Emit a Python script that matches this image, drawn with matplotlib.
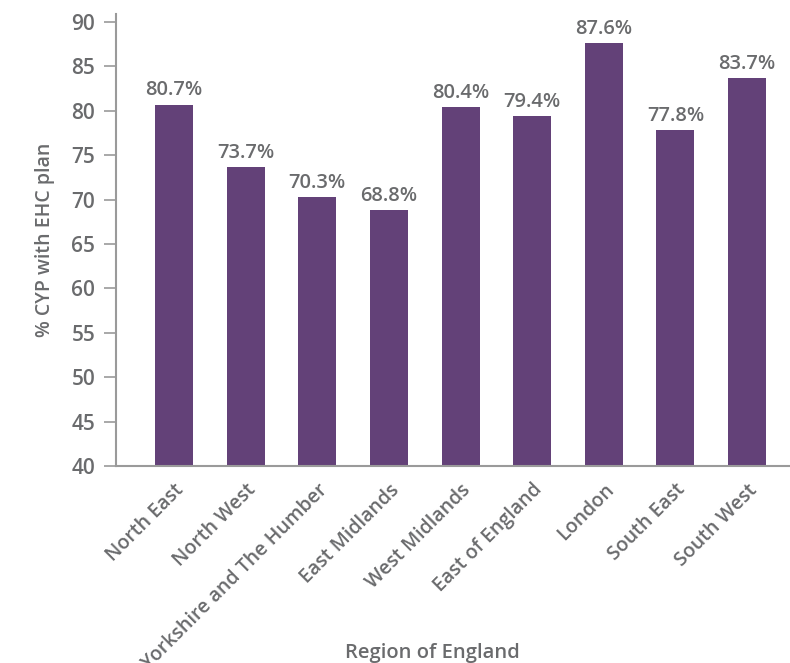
import matplotlib.pyplot as plt

plt.rcParams['font.family'] = ['Open Sans', 'DejaVu Sans']

regions = ['North East', 'North West', 'Yorkshire and The Humber', 'East Midlands',
           'West Midlands', 'East of England', 'London', 'South East', 'South West']
pct_ehc = [80.7, 73.7, 70.3, 68.8, 80.4, 79.4, 87.6, 77.8, 83.7]
y_ticks = [40, 45, 50, 55, 60, 65, 70, 75, 80, 85, 90]

bar_color = '#634178'
text_color = '#6a6b6d'
axis_color = '#9a9a9a'
weight = 'semibold'

fig = plt.figure(figsize=(7.9, 6.63), dpi=100)
ax = fig.add_axes([0.147, 0.297, 0.853, 0.682])

x = range(len(regions))
bars = ax.bar(x, pct_ehc, width=0.53, color=bar_color, zorder=2)
for b, v in zip(bars, pct_ehc):
    ax.annotate(f'{v}%', (b.get_x() + b.get_width() / 2, v), xytext=(0, 3),
                textcoords='offset points', ha='center', va='bottom',
                fontsize=14.5, fontweight=weight, color=text_color)

ax.set_ylim(40, 90.9)
ax.set_xlim(-0.81, 8.6)
ax.set_yticks(y_ticks)
ax.set_xticks(list(x))
ax.set_xticklabels(regions, rotation=45, ha='right', rotation_mode='anchor',
                   fontsize=14, fontweight=weight, color=text_color)
ax.tick_params(axis='x', length=0, pad=10)
ax.tick_params(axis='y', length=9, width=1.2, color=axis_color, pad=6,
               labelsize=15, labelcolor=text_color)
for lbl in ax.get_yticklabels():
    lbl.set_fontweight(weight)

for side in ('top', 'right'):
    ax.spines[side].set_visible(False)
for side in ('left', 'bottom'):
    ax.spines[side].set_color(axis_color)
    ax.spines[side].set_linewidth(1.5)

ax.set_ylabel('% CYP with EHC plan', fontsize=14, fontweight=weight,
              color=text_color, labelpad=12)
fig.text(0.547, 0.0, 'Region of England', ha='center', va='bottom',
         fontsize=14.5, fontweight=weight, color=text_color)

fig.savefig('out.png', dpi=100)
